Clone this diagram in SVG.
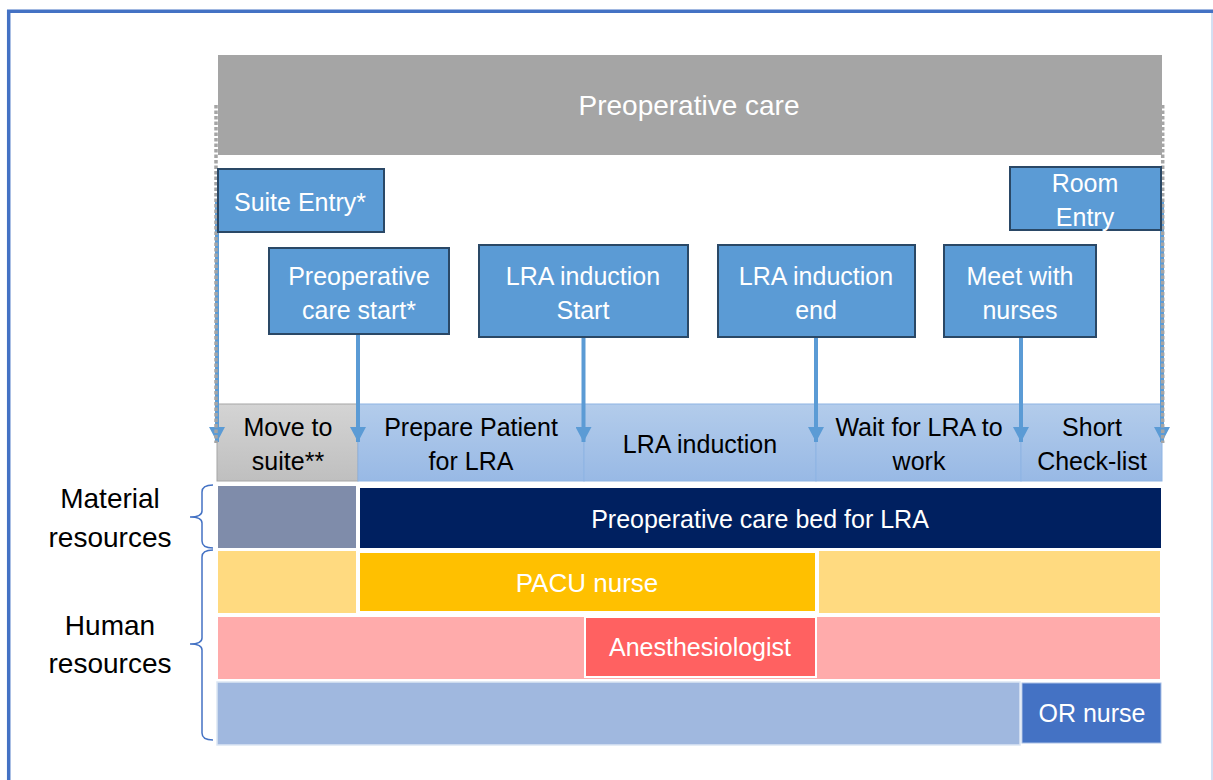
<svg xmlns="http://www.w3.org/2000/svg" width="1213" height="780" viewBox="0 0 1213 780">
<style>
.t{font-family:"Liberation Sans",Arial,sans-serif;text-anchor:middle}
.w{fill:#fff}
.k{fill:#000}
.ev{fill:#5B9BD5;stroke:#2A4866;stroke-width:2}
.arr{stroke:#5B9BD5;stroke-width:4;fill:none}
.dot{stroke:#A5A5A5;stroke-width:3.5;fill:none;stroke-dasharray:3.5 2}
.res{stroke:#fff;stroke-width:2}
.br{fill:none;stroke:#4472C4;stroke-width:1.5}
</style>
<defs>
<marker id="ah" markerUnits="userSpaceOnUse" markerWidth="16" markerHeight="16" viewBox="0 0 16 16" refX="15" refY="8" orient="auto">
<path d="M0,0 L15,8 L0,16 Z" fill="#5B9BD5"/>
</marker>
<linearGradient id="gGrey" x1="0" y1="0" x2="0" y2="1"><stop offset="0" stop-color="#D4D4D4"/><stop offset="1" stop-color="#BFBFBF"/></linearGradient>
<linearGradient id="gBlue" x1="0" y1="0" x2="0" y2="1"><stop offset="0" stop-color="#B3CCEB"/><stop offset="1" stop-color="#98B9E5"/></linearGradient>
</defs>
<rect width="1213" height="780" fill="#fff"/>
<g id="frame">
<path d="M8.7,780 L8.7,11.3 L1213,11.3" fill="none" stroke="#4472C4" stroke-width="3.5"/>
<line x1="1212" y1="13" x2="1212" y2="780" stroke="#C5D5EE" stroke-width="1.5"/>
</g>
<g id="header">
<rect x="218" y="55" width="944" height="100" fill="#A5A5A5"/>
<text class="t w" x="689" y="115" font-size="28">Preoperative care</text>
</g>
<g id="stages">
<g id="stage-move">
<rect x="217" y="404" width="141" height="77" fill="url(#gGrey)" stroke="#A6A6A6" stroke-width="1"/>
<text class="t k" x="288" y="436" font-size="25">Move to</text>
<text class="t k" x="288" y="470" font-size="25">suite**</text>
</g>
<g id="stage-prepare">
<rect x="358" y="404" width="226" height="77" fill="url(#gBlue)" stroke="#8EB4E3" stroke-width="1"/>
<text class="t k" x="471" y="436" font-size="25">Prepare Patient</text>
<text class="t k" x="471" y="470" font-size="25">for LRA</text>
</g>
<g id="stage-induction">
<rect x="584" y="404" width="232" height="77" fill="url(#gBlue)" stroke="#8EB4E3" stroke-width="1"/>
<text class="t k" x="700" y="453" font-size="25">LRA induction</text>
</g>
<g id="stage-wait">
<rect x="816" y="404" width="205" height="77" fill="url(#gBlue)" stroke="#8EB4E3" stroke-width="1"/>
<text class="t k" x="919" y="436" font-size="25">Wait for LRA to</text>
<text class="t k" x="919" y="470" font-size="25">work</text>
</g>
<g id="stage-check">
<rect x="1021" y="404" width="141" height="77" fill="url(#gBlue)" stroke="#8EB4E3" stroke-width="1"/>
<text class="t k" x="1092" y="436" font-size="25">Short</text>
<text class="t k" x="1092" y="470" font-size="25">Check-list</text>
</g>
</g>
<g id="resources">
<g id="res-material">
<rect x="217" y="485" width="140" height="64" fill="#7F8CAA" class="res"/>
<rect x="359" y="487" width="803" height="62" fill="#002060" class="res"/>
<text class="t w" x="760" y="528" font-size="25">Preoperative care bed for LRA</text>
</g>
<g id="res-pacu">
<rect x="217" y="550" width="140" height="64" fill="#FFDA80" class="res"/>
<rect x="818" y="550" width="343" height="64" fill="#FFDA80" class="res"/>
<rect x="359" y="552" width="457" height="60" fill="#FFC000" class="res"/>
<text class="t w" x="587" y="592" font-size="26">PACU nurse</text>
</g>
<g id="res-anesth">
<rect x="217" y="616" width="944" height="64" fill="#FFABAB" class="res"/>
<rect x="585" y="617" width="231" height="60" fill="#FF6161" class="res"/>
<text class="t w" x="700" y="656" font-size="25">Anesthesiologist</text>
</g>
<g id="res-ornurse">
<rect x="217" y="682" width="803" height="63" fill="#A0B8DF" stroke="#DCE6F4" stroke-width="1.5"/>
<rect x="1022" y="683" width="139" height="60" fill="#4472C4" stroke="#A9C0E6" stroke-width="1"/>
<text class="t w" x="1092" y="722" font-size="25">OR nurse</text>
</g>
</g>
<g id="labels">
<path class="br" d="M213,485 Q202,485 202,492 L202,511 Q202,517 190,517 Q202,517 202,523 L202,541 Q202,548 213,548"/>
<path class="br" d="M213,550 Q202,550 202,557 L202,638 Q202,644 190,644 Q202,644 202,650 L202,733 Q202,740 213,740"/>
<text class="t k" x="110" y="508" font-size="28">Material</text>
<text class="t k" x="110" y="547" font-size="28">resources</text>
<text class="t k" x="110" y="635" font-size="28">Human</text>
<text class="t k" x="110" y="673" font-size="28">resources</text>
</g>
<g id="connectors">
<line class="arr" x1="217" y1="200" x2="217" y2="442" marker-end="url(#ah)"/>
<line class="arr" x1="1162" y1="200" x2="1162" y2="442" marker-end="url(#ah)"/>
<line class="dot" x1="216" y1="105" x2="216" y2="443"/>
<line class="dot" x1="1162.7" y1="105" x2="1162.7" y2="443"/>
<line class="arr" x1="358" y1="334" x2="358" y2="442" marker-end="url(#ah)"/>
<line class="arr" x1="583.5" y1="337" x2="583.5" y2="442" marker-end="url(#ah)"/>
<line class="arr" x1="816" y1="337" x2="816" y2="442" marker-end="url(#ah)"/>
<line class="arr" x1="1021" y1="337" x2="1021" y2="442" marker-end="url(#ah)"/>
</g>
<g id="ev-suite">
<rect class="ev" x="218" y="169" width="166" height="63"/>
<text class="t w" x="300" y="211" font-size="25">Suite Entry*</text>
</g>
<g id="ev-preop">
<rect class="ev" x="269" y="248" width="180" height="86"/>
<text class="t w" x="359" y="285" font-size="25">Preoperative</text>
<text class="t w" x="359" y="319" font-size="25">care start*</text>
</g>
<g id="ev-lra-start">
<rect class="ev" x="479" y="245" width="209" height="92"/>
<text class="t w" x="583" y="285" font-size="25">LRA induction</text>
<text class="t w" x="583" y="319" font-size="25">Start</text>
</g>
<g id="ev-lra-end">
<rect class="ev" x="718" y="245" width="197" height="92"/>
<text class="t w" x="816" y="285" font-size="25">LRA induction</text>
<text class="t w" x="816" y="319" font-size="25">end</text>
</g>
<g id="ev-meet">
<rect class="ev" x="944" y="245" width="152" height="92"/>
<text class="t w" x="1020" y="285" font-size="25">Meet with</text>
<text class="t w" x="1020" y="319" font-size="25">nurses</text>
</g>
<g id="ev-room">
<rect class="ev" x="1010" y="167" width="151" height="63"/>
<text class="t w" x="1085" y="192" font-size="25">Room</text>
<text class="t w" x="1085" y="226" font-size="25">Entry</text>
</g>
</svg>
